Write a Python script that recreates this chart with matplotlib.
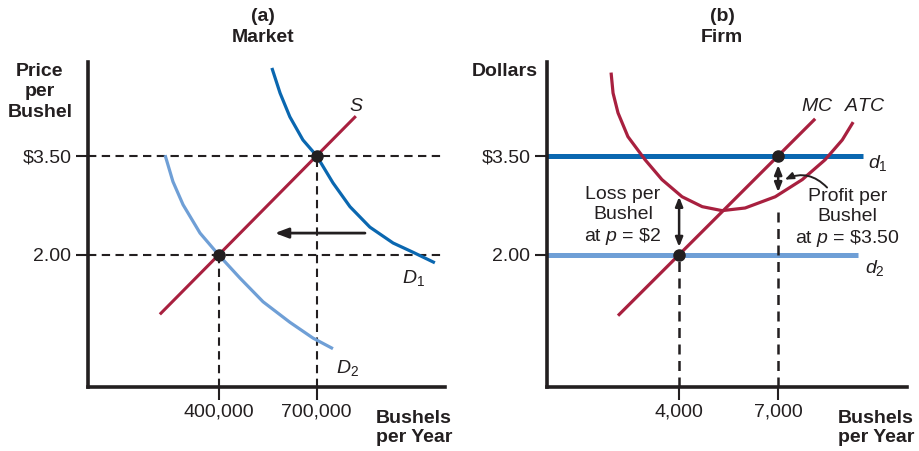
import matplotlib
matplotlib.use("Agg")
import matplotlib.pyplot as plt

plt.rcParams['font.family'] = ['Liberation Sans', 'DejaVu Sans']
plt.rcParams['mathtext.fontset'] = 'custom'
plt.rcParams['mathtext.rm'] = 'Liberation Sans'
plt.rcParams['mathtext.it'] = 'Liberation Sans:italic'

# ---- data ----
# panel (a): market, bushels per year vs price per bushel
supply_q = [220000, 820000]
supply_p = [1.10, 4.10]
d1_q = [563000, 588000, 618000, 658000, 700000, 750000, 802000, 863000, 934000, 995000, 1062000]
d1_p = [4.83, 4.45, 4.09, 3.74, 3.50, 3.09, 2.73, 2.42, 2.18, 2.04, 1.88]
d2_q = [236000, 260000, 291000, 343000, 400000, 465000, 536000, 618000, 689000, 750000]
d2_p = [3.51, 3.11, 2.76, 2.33, 2.00, 1.65, 1.29, 0.98, 0.74, 0.58]
market_q = [400000, 700000]
market_p = [2.00, 3.50]
market_qlabels = ['400,000', '700,000']
price_labels = ['2.00', '$3.50']

# panel (b): firm
mc_q = [2150, 8120]
mc_c = [1.08, 4.06]
atc_q = [1940, 2000, 2150, 2450, 2970, 3480, 4090, 4700, 5300, 6000, 6910, 7730, 8420, 8940, 9270]
atc_c = [4.76, 4.45, 4.15, 3.79, 3.44, 3.14, 2.88, 2.73, 2.67, 2.71, 2.88, 3.14, 3.44, 3.74, 4.01]
firm_q = [4000, 7000]
firm_qlabels = ['4,000', '7,000']
d1_end, d2_end = 9560, 9420

red = '#a8203f'
blue = '#0a67b0'
lightblue = '#6f9fd6'
ink = '#231f20'

W, H = 920, 451
fig = plt.figure(figsize=(W / 100, H / 100), dpi=100)


def px(x, y):
    return x / W, 1 - y / H


def style_axes(ax):
    for s in ['top', 'right']:
        ax.spines[s].set_visible(False)
    for s in ['left', 'bottom']:
        ax.spines[s].set_linewidth(2.6)
        ax.spines[s].set_color(ink)
    ax.tick_params(direction='out', length=9, width=1.5, color=ink,
                   labelsize=14, labelcolor=ink, pad=3)


dash = (0, (4, 2.6))
curve = dict(solid_capstyle='butt', solid_joinstyle='round')

# ---------- panel (a) ----------
ax1 = fig.add_axes([88 / W, (H - 387) / H, 357 / W, 325 / H])
style_axes(ax1)
ax1.set_xlim(0, 1093000)
ax1.set_ylim(0, 4.92)
ax1.set_xticks(market_q, market_qlabels)
ax1.set_yticks(market_p, price_labels)

for p in market_p:
    ax1.plot([0, 1093000], [p, p], color=ink, lw=1.5, ls=dash, clip_on=False)
ax1.plot([market_q[0]] * 2, [0, market_p[0]], color=ink, lw=1.5, ls=dash)
ax1.plot([market_q[1]] * 2, [0, market_p[1]], color=ink, lw=1.5, ls=dash)

ax1.plot(d1_q, d1_p, color=blue, lw=2.3, **curve)
ax1.plot(d2_q, d2_p, color=lightblue, lw=2.3, **curve)
ax1.plot(supply_q, supply_p, color=red, lw=2.2, **curve)
ax1.plot(market_q, market_p, 'o', color=ink, ms=8, zorder=5)

ax1.annotate('', xy=(572000, 2.33), xytext=(848000, 2.33),
             arrowprops=dict(arrowstyle='-|>,head_length=0.8,head_width=0.3',
                             color=ink, lw=2, shrinkA=0, shrinkB=0))

ax1.text(823000, 4.24, '$S$', fontsize=14, ha='center', va='center', color=ink)
ax1.text(995000, 1.65, r'$D_\mathrm{1}$', fontsize=14, ha='center', va='center', color=ink)
ax1.text(793000, 0.29, r'$D_\mathrm{2}$', fontsize=14, ha='center', va='center', color=ink)

# ---------- panel (b) ----------
ax2 = fig.add_axes([547 / W, (H - 387) / H, 360 / W, 325 / H])
style_axes(ax2)
ax2.set_xlim(0, 10900)
ax2.set_ylim(0, 4.92)
ax2.set_xticks(firm_q, firm_qlabels)
ax2.set_yticks(market_p, price_labels)

ax2.plot([0, d1_end], [3.5, 3.5], color=blue, lw=3.6, solid_capstyle='butt')
ax2.plot([0, d2_end], [2.0, 2.0], color=lightblue, lw=3.6, solid_capstyle='butt')
ax2.plot([firm_q[0]] * 2, [0, 2.0], color=ink, lw=1.8, ls=dash)
ax2.plot([firm_q[1]] * 2, [0, 2.74], color=ink, lw=1.8, ls=dash)

ax2.plot(atc_q, atc_c, color=red, lw=2.3, **curve)
ax2.plot(mc_q, mc_c, color=red, lw=2.3, **curve)
ax2.plot(firm_q, market_p, 'o', color=ink, ms=8, zorder=5)

darrow = dict(arrowstyle='<|-|>,head_length=0.55,head_width=0.22',
              color=ink, lw=1.8, shrinkA=0, shrinkB=0)
ax2.annotate('', xy=(4000, 2.88), xytext=(4000, 2.12), arrowprops=darrow)
ax2.annotate('', xy=(7000, 3.36), xytext=(7000, 2.95), arrowprops=darrow)
ax2.annotate('', xy=(7200, 3.14), xytext=(8480, 3.02),
             arrowprops=dict(arrowstyle='-|>,head_length=0.5,head_width=0.2',
                             color=ink, lw=1.4, shrinkA=0, shrinkB=0,
                             connectionstyle='arc3,rad=0.35'))

ax2.text(2300, 2.58, 'Loss per\nBushel\nat $p$ = \\$2', fontsize=14, ha='center',
         va='center', color=ink, linespacing=1.22)
ax2.text(9090, 2.55, 'Profit per\nBushel\nat $p$ = \\$3.50', fontsize=14, ha='center',
         va='center', color=ink, linespacing=1.22)
ax2.text(8180, 4.24, '$MC$', fontsize=14, ha='center', va='center', color=ink)
ax2.text(9640, 4.24, '$ATC$', fontsize=14, ha='center', va='center', color=ink)
ax2.text(10030, 3.39, r'$d_\mathrm{1}$', fontsize=14, ha='center', va='center', color=ink)
ax2.text(9940, 1.80, r'$d_\mathrm{2}$', fontsize=14, ha='center', va='center', color=ink)

# ---------- outside labels ----------
bold = dict(fontsize=14, fontweight='bold', color=ink)
fig.text(*px(263, 27), '(a)\nMarket', ha='center', va='center', linespacing=1.3, **bold)
fig.text(*px(722, 27), '(b)\nFirm', ha='center', va='center', linespacing=1.3, **bold)
fig.text(*px(40, 92), 'Price\nper\nBushel', ha='center', va='center', linespacing=1.3, **bold)
fig.text(*px(505, 72), 'Dollars', ha='center', va='center', **bold)
fig.text(*px(376, 428), 'Bushels\nper Year', ha='left', va='center', linespacing=1.2, **bold)
fig.text(*px(838, 428), 'Bushels\nper Year', ha='left', va='center', linespacing=1.2, **bold)

fig.savefig('out.png', dpi=100)
